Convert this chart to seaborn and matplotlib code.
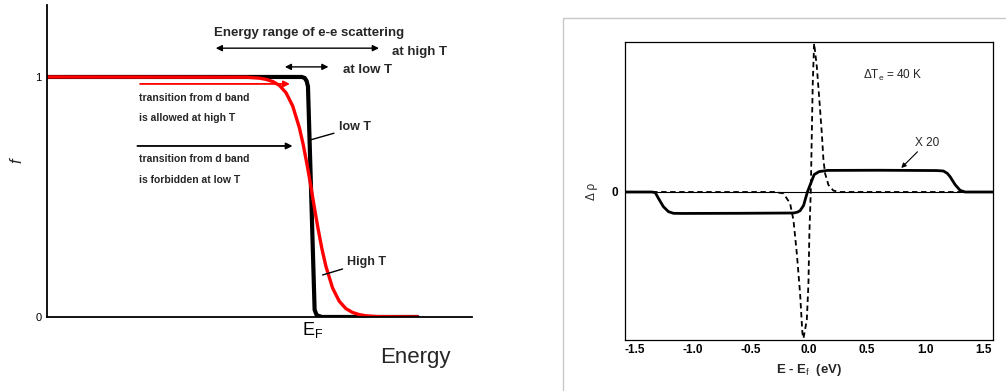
import matplotlib
matplotlib.use("Agg")
import matplotlib.pyplot as plt
import seaborn as sns
import pandas as pd
from matplotlib.patches import Rectangle

# ---------------- data ----------------
# left panel: Fermi-Dirac occupation f vs energy (E_F at x = 2)
lowT_x = [0.0, 1.917, 1.94, 1.955, 1.965, 2.015, 2.03, 2.068, 2.79]
lowT_y = [1.0, 1.0, 0.996, 0.983, 0.96, 0.03, 0.008, 0.0, 0.0]

highT_x = [0.0, 1.5, 1.6, 1.65, 1.7, 1.75, 1.8, 1.85, 1.9, 1.93, 1.96, 1.98, 2.0,
           2.02, 2.04, 2.07, 2.1, 2.15, 2.2, 2.25, 2.3, 2.35, 2.4, 2.5, 2.79]
highT_y = [1.0, 0.999, 0.995, 0.990, 0.981, 0.965, 0.934, 0.879, 0.789, 0.716, 0.629, 0.566, 0.5,
           0.434, 0.371, 0.284, 0.211, 0.121, 0.066, 0.035, 0.019, 0.010, 0.005, 0.001, 0.0]

# right panel: change of optical quantity vs E - E_f (eV)
dash_E = [-1.58, -0.30, -0.218, -0.161, -0.132, -0.103, -0.075, -0.055, -0.046, -0.017, -0.003,
          0.005, 0.017, 0.026, 0.034, 0.046, 0.069, 0.091, 0.112, 0.126, 0.140, 0.169, 0.212,
          0.269, 1.58]
dash_d = [0.0, 0.0, -0.009, -0.076, -0.187, -0.409, -0.676, -0.942, -0.976, -0.853, -0.609,
          -0.276, 0.0, 0.391, 0.724, 0.991, 0.836, 0.613, 0.391, 0.213, 0.124, 0.047, 0.009,
          0.0, 0.0]

x20_E = [-1.58, -1.35, -1.32, -1.293, -1.25, -1.207, -1.164, -1.10, -0.60, -0.132, -0.100,
         -0.075, -0.045, -0.012, 0.017, 0.046, 0.089, 0.16, 0.60, 1.10, 1.157, 1.190,
         1.215, 1.258, 1.301, 1.344, 1.58]
x20_d = [0.0, 0.0, -0.004, -0.042, -0.098, -0.131, -0.142, -0.143, -0.142, -0.140, -0.135,
         -0.125, -0.09, 0.0, 0.058, 0.116, 0.136, 0.144, 0.145, 0.143, 0.14, 0.125,
         0.102, 0.049, 0.011, 0.0, 0.0]

left_yticks = [0, 0.5, 1]
left_yticklabels = ["0", "", "1"]
left_xticks = [0, 1, 2, 3]
left_xticklabels = ["", "", "E$_\\mathrm{F}$", ""]
right_xticks = [-1.5, -1.0, -0.5, 0.0, 0.5, 1.0, 1.5]
right_xticklabels = ["-1.5", "-1.0", "-0.5", "0.0", "0.5", "1.0", "1.5"]

# ---------------- figure ----------------
sns.set_theme(style="white")
plt.rcParams["font.family"] = ["Liberation Sans", "DejaVu Sans"]
plt.rcParams["mathtext.fontset"] = "custom"
plt.rcParams["mathtext.rm"] = "Liberation Sans"
plt.rcParams["mathtext.it"] = "Liberation Sans:italic"

fig = plt.figure(figsize=(10.06, 3.91), dpi=100)
fig.patch.set_facecolor("white")

# ---- left panel ----
axL = fig.add_axes([0.0467, 0.1893, 0.4225, 0.798])
sns.lineplot(x=lowT_x, y=lowT_y, ax=axL, color="black", lw=3.0, sort=False, estimator=None)
sns.lineplot(x=highT_x, y=highT_y, ax=axL, color="red", lw=2.4, sort=False, estimator=None)
axL.set_xlim(0, 3.2)
axL.set_ylim(0, 1.3)
for s in ["top", "right"]:
    axL.spines[s].set_visible(False)
for s in ["left", "bottom"]:
    axL.spines[s].set_color("black")
    axL.spines[s].set_linewidth(1.3)
axL.set_yticks(left_yticks)
axL.set_yticklabels(left_yticklabels, fontsize=8)
axL.set_xticks(left_xticks)
axL.set_xticklabels(left_xticklabels, fontsize=13)
axL.tick_params(axis="both", direction="in", length=4, width=0.8, colors="black", pad=4)
axL.tick_params(axis="x", pad=2)
axL.set_ylabel("f", fontsize=12, style="italic", labelpad=8)
fig.text(0.378, 0.058, "Energy", fontsize=16, ha="left", va="bottom")

axL.text(1.26, 1.185, "Energy range of e-e scattering", fontsize=9.5, fontweight="bold",
         ha="left", va="center")
axL.annotate("", xy=(1.25, 1.12), xytext=(2.52, 1.12),
             arrowprops=dict(arrowstyle="<|-|>", color="black", lw=1.0, mutation_scale=9))
axL.text(2.6, 1.105, "at high T", fontsize=9.5, fontweight="bold", ha="left", va="center")
axL.annotate("", xy=(1.77, 1.042), xytext=(2.14, 1.042),
             arrowprops=dict(arrowstyle="<|-|>", color="black", lw=1.0, mutation_scale=9))
axL.text(2.23, 1.03, "at low T", fontsize=9.5, fontweight="bold", ha="left", va="center")

axL.annotate("", xy=(1.85, 0.971), xytext=(0.68, 0.971),
             arrowprops=dict(arrowstyle="-|>", color="red", lw=1.3, mutation_scale=9))
axL.text(0.69, 0.912, "transition from d band", fontsize=7.5, fontweight="bold", ha="left", va="center")
axL.text(0.69, 0.83, "is allowed at high T", fontsize=7.5, fontweight="bold", ha="left", va="center")
axL.annotate("", xy=(1.87, 0.7125), xytext=(0.66, 0.7125),
             arrowprops=dict(arrowstyle="-|>", color="black", lw=1.3, mutation_scale=9))
axL.text(0.69, 0.658, "transition from d band", fontsize=7.5, fontweight="bold", ha="left", va="center")
axL.text(0.69, 0.572, "is forbidden at low T", fontsize=7.5, fontweight="bold", ha="left", va="center")

axL.annotate("low T", xy=(1.985, 0.738), xytext=(2.195, 0.79), fontsize=9, fontweight="bold",
             ha="left", va="center",
             arrowprops=dict(arrowstyle="-", color="black", lw=1.0, shrinkA=1, shrinkB=0))
axL.annotate("High T", xy=(2.075, 0.175), xytext=(2.26, 0.23), fontsize=9, fontweight="bold",
             ha="left", va="center",
             arrowprops=dict(arrowstyle="-", color="black", lw=1.0, shrinkA=1, shrinkB=0))

# ---- right panel ----
fig.add_artist(Rectangle((0.5596, -0.1), 0.6, 1.054, transform=fig.transFigure,
                         fill=False, edgecolor="#c8c8c8", lw=1.0))

axR = fig.add_axes([0.6213, 0.1304, 0.3658, 0.7621])
axR.axhline(0, color="black", lw=0.8)
sns.lineplot(x=dash_E, y=dash_d, ax=axR, color="black", lw=1.3, linestyle=(0, (3, 2)),
             sort=False, estimator=None)
sns.lineplot(x=x20_E, y=x20_d, ax=axR, color="black", lw=2.0, sort=False, estimator=None)
axR.set_xlim(-1.58, 1.584)
axR.set_ylim(-0.987, 1.0)
for s in axR.spines.values():
    s.set_color("black")
    s.set_linewidth(0.9)
axR.set_xticks(right_xticks)
axR.set_xticklabels(right_xticklabels, fontsize=8.5, fontweight="bold")
axR.set_yticks([0])
axR.set_yticklabels(["0"], fontsize=8.5, fontweight="bold")
axR.tick_params(axis="x", direction="in", length=5, width=0.8, colors="black", pad=3)
axR.tick_params(axis="y", direction="in", length=0, colors="black", pad=5)
axR.set_xlabel("E - E$_\\mathrm{f}$  (eV)", fontsize=9.5, fontweight="bold", labelpad=4)
axR.set_ylabel("\u0394 \u03c1", fontsize=8.5, labelpad=10)
axR.text(0.47, 0.78, "\u0394T$_\\mathrm{e}$ = 40 K", fontsize=8.5, ha="left", va="center")
axR.annotate("X 20", xy=(0.795, 0.16), xytext=(0.91, 0.33), fontsize=8.5, ha="left", va="center",
             arrowprops=dict(arrowstyle="-|>", color="black", lw=0.8, mutation_scale=7,
                             shrinkA=0, shrinkB=0))

fig.savefig("out.png", dpi=100)
